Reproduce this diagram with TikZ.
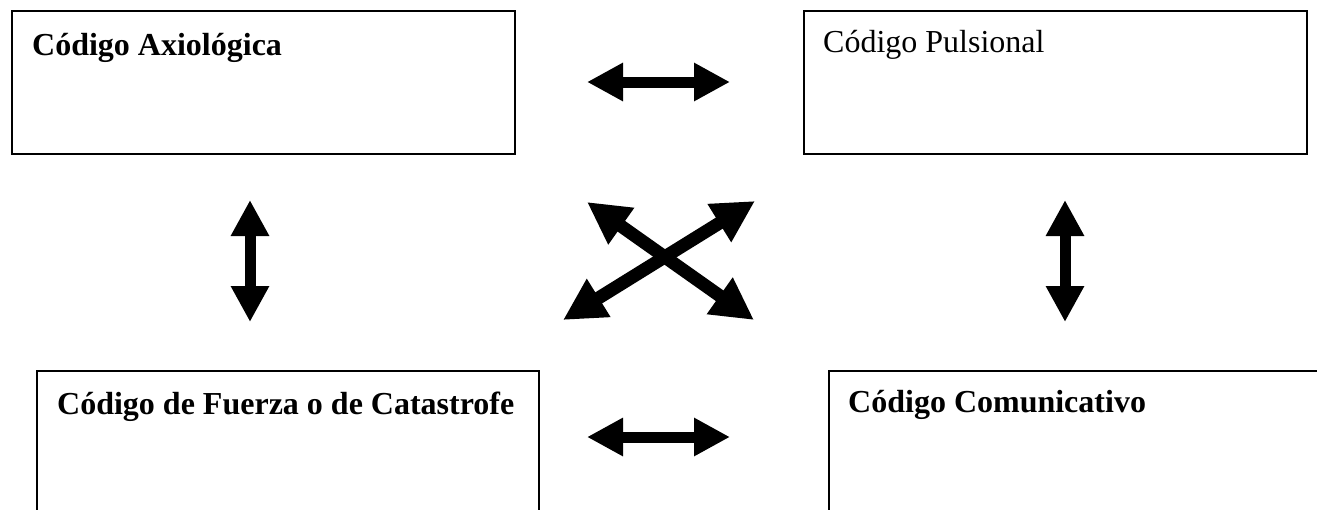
\documentclass[tikz,border=0pt]{standalone}
\usepackage{fontspec}
\setmainfont{Liberation Serif}
\usetikzlibrary{arrows.meta}
\tikzset{
  codebox/.style={draw=black, line width=2pt, rectangle, inner sep=0pt, anchor=north west},
  lbl/.style={inner sep=0pt, anchor=base west, font=\fontsize{32}{38}\selectfont},
  bigarrow/.style={line width=11pt, {Triangle[length=36pt,width=36pt]}-{Triangle[length=36pt,width=36pt]}},
  diagarrow/.style={line width=13pt, {Triangle[length=42pt,width=42pt]}-{Triangle[length=42pt,width=42pt]}}
}
\begin{document}
\begin{tikzpicture}[x=1pt,y=-1pt]
\clip (0,0) rectangle (1317,509);
\fill[white] (0,0) rectangle (1317,509);
% boxes
\node[codebox, minimum width=503pt, minimum height=143pt] (ax) at (11,10) {};
\node[codebox, minimum width=503pt, minimum height=143pt] (pu) at (803,10) {};
\node[codebox, minimum width=502pt, minimum height=200pt] (fu) at (36,370) {};
\node[codebox, minimum width=600pt, minimum height=200pt] (co) at (828,370) {};
% labels
\node[lbl, font=\fontsize{32}{38}\selectfont\bfseries] (axt) at (32,55.5) {Código Axiológica};
\node[lbl] (put) at (823,52) {Código Pulsional};
\node[lbl, font=\fontsize{32}{38}\selectfont\bfseries] (fut) at (57,414.5) {Código de Fuerza o de Catastrofe};
\node[lbl, font=\fontsize{32}{38}\selectfont\bfseries] (cot) at (848,412) {Código Comunicativo};
% arrow end points
\coordinate (h1a) at (587,82);  \coordinate (h1b) at (730,82);
\coordinate (h2a) at (587,437); \coordinate (h2b) at (730,437);
\coordinate (v1a) at (250,200); \coordinate (v1b) at (250,322);
\coordinate (v2a) at (1065,200); \coordinate (v2b) at (1065,322);
\coordinate (d1a) at (587,202); \coordinate (d1b) at (754,320);
\coordinate (d2a) at (563,320); \coordinate (d2b) at (755,201);
% arrows
\draw[bigarrow] (h1a) -- (h1b);
\draw[bigarrow] (h2a) -- (h2b);
\draw[bigarrow] (v1a) -- (v1b);
\draw[bigarrow] (v2a) -- (v2b);
\draw[diagarrow] (d1a) -- (d1b);
\draw[diagarrow] (d2a) -- (d2b);
\end{tikzpicture}
\end{document}
